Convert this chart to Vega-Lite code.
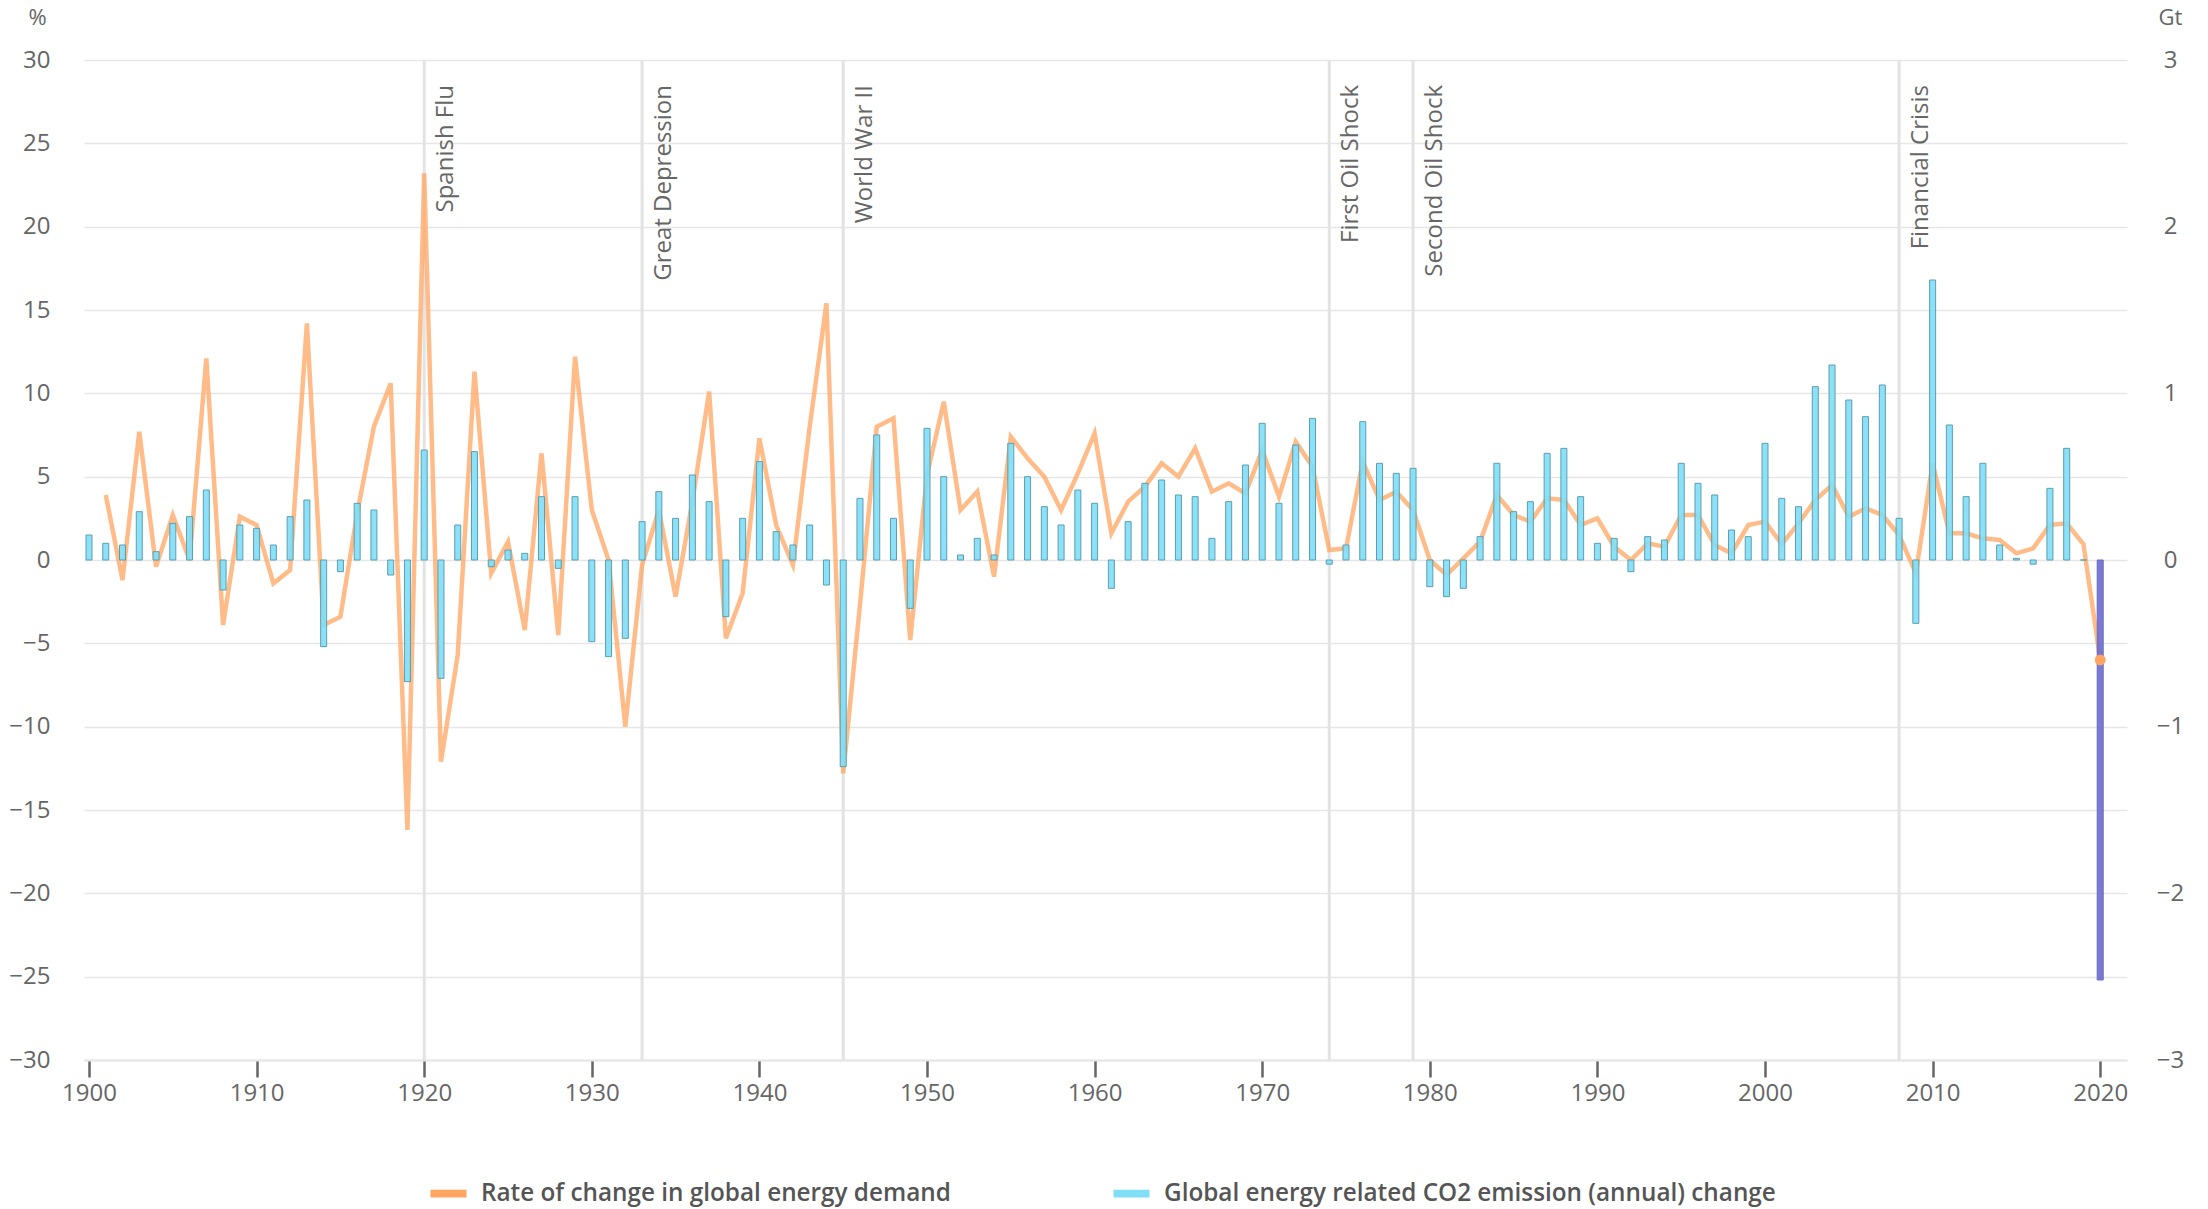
{
  "$schema": "https://vega.github.io/schema/vega-lite/v6.json",
  "width": 2043,
  "height": 1000,
  "autosize": {"type": "none"},
  "padding": {"left": 84, "top": 60, "right": 81, "bottom": 149},
  "background": "#ffffff",
  "config": {
    "view": {"stroke": null},
    "font": "Open Sans",
    "axis": {"labelFont": "Open Sans", "titleFont": "Open Sans", "labelColor": "#666666", "titleColor": "#666666", "labelFontSize": 24},
    "legend": {"labelFont": "Open Sans"}
  },
  "datasets": {
    "main": [
      {"year": 1900, "demand": null, "co2": 0.15},
      {"year": 1901, "demand": 3.9, "co2": 0.10},
      {"year": 1902, "demand": -1.2, "co2": 0.09},
      {"year": 1903, "demand": 7.7, "co2": 0.29},
      {"year": 1904, "demand": -0.4, "co2": 0.05},
      {"year": 1905, "demand": 2.7, "co2": 0.22},
      {"year": 1906, "demand": 0.0, "co2": 0.26},
      {"year": 1907, "demand": 12.1, "co2": 0.42},
      {"year": 1908, "demand": -3.9, "co2": -0.18},
      {"year": 1909, "demand": 2.6, "co2": 0.21},
      {"year": 1910, "demand": 2.1, "co2": 0.19},
      {"year": 1911, "demand": -1.4, "co2": 0.09},
      {"year": 1912, "demand": -0.6, "co2": 0.26},
      {"year": 1913, "demand": 14.2, "co2": 0.36},
      {"year": 1914, "demand": -3.9, "co2": -0.52},
      {"year": 1915, "demand": -3.4, "co2": -0.07},
      {"year": 1916, "demand": 2.8, "co2": 0.34},
      {"year": 1917, "demand": 8.0, "co2": 0.30},
      {"year": 1918, "demand": 10.6, "co2": -0.09},
      {"year": 1919, "demand": -16.2, "co2": -0.73},
      {"year": 1920, "demand": 23.2, "co2": 0.66},
      {"year": 1921, "demand": -12.1, "co2": -0.71},
      {"year": 1922, "demand": -5.7, "co2": 0.21},
      {"year": 1923, "demand": 11.3, "co2": 0.65},
      {"year": 1924, "demand": -0.8, "co2": -0.04},
      {"year": 1925, "demand": 1.1, "co2": 0.06},
      {"year": 1926, "demand": -4.2, "co2": 0.04},
      {"year": 1927, "demand": 6.4, "co2": 0.38},
      {"year": 1928, "demand": -4.5, "co2": -0.05},
      {"year": 1929, "demand": 12.2, "co2": 0.38},
      {"year": 1930, "demand": 3.0, "co2": -0.49},
      {"year": 1931, "demand": 0.0, "co2": -0.58},
      {"year": 1932, "demand": -10.0, "co2": -0.47},
      {"year": 1933, "demand": -0.3, "co2": 0.23},
      {"year": 1934, "demand": 3.0, "co2": 0.41},
      {"year": 1935, "demand": -2.2, "co2": 0.25},
      {"year": 1936, "demand": 3.5, "co2": 0.51},
      {"year": 1937, "demand": 10.1, "co2": 0.35},
      {"year": 1938, "demand": -4.7, "co2": -0.34},
      {"year": 1939, "demand": -2.0, "co2": 0.25},
      {"year": 1940, "demand": 7.3, "co2": 0.59},
      {"year": 1941, "demand": 2.1, "co2": 0.17},
      {"year": 1942, "demand": -0.3, "co2": 0.09},
      {"year": 1943, "demand": 8.0, "co2": 0.21},
      {"year": 1944, "demand": 15.4, "co2": -0.15},
      {"year": 1945, "demand": -12.8, "co2": -1.24},
      {"year": 1946, "demand": -2.7, "co2": 0.37},
      {"year": 1947, "demand": 8.0, "co2": 0.75},
      {"year": 1948, "demand": 8.5, "co2": 0.25},
      {"year": 1949, "demand": -4.8, "co2": -0.29},
      {"year": 1950, "demand": 5.1, "co2": 0.79},
      {"year": 1951, "demand": 9.5, "co2": 0.50},
      {"year": 1952, "demand": 3.0, "co2": 0.03},
      {"year": 1953, "demand": 4.1, "co2": 0.13},
      {"year": 1954, "demand": -1.0, "co2": 0.03},
      {"year": 1955, "demand": 7.4, "co2": 0.70},
      {"year": 1956, "demand": 6.1, "co2": 0.50},
      {"year": 1957, "demand": 5.0, "co2": 0.32},
      {"year": 1958, "demand": 3.0, "co2": 0.21},
      {"year": 1959, "demand": 5.2, "co2": 0.42},
      {"year": 1960, "demand": 7.6, "co2": 0.34},
      {"year": 1961, "demand": 1.6, "co2": -0.17},
      {"year": 1962, "demand": 3.5, "co2": 0.23},
      {"year": 1963, "demand": 4.4, "co2": 0.46},
      {"year": 1964, "demand": 5.8, "co2": 0.48},
      {"year": 1965, "demand": 5.0, "co2": 0.39},
      {"year": 1966, "demand": 6.7, "co2": 0.38},
      {"year": 1967, "demand": 4.1, "co2": 0.13},
      {"year": 1968, "demand": 4.6, "co2": 0.35},
      {"year": 1969, "demand": 4.0, "co2": 0.57},
      {"year": 1970, "demand": 6.6, "co2": 0.82},
      {"year": 1971, "demand": 3.8, "co2": 0.34},
      {"year": 1972, "demand": 7.1, "co2": 0.69},
      {"year": 1973, "demand": 5.6, "co2": 0.85},
      {"year": 1974, "demand": 0.6, "co2": -0.025},
      {"year": 1975, "demand": 0.7, "co2": 0.09},
      {"year": 1976, "demand": 5.9, "co2": 0.83},
      {"year": 1977, "demand": 3.6, "co2": 0.58},
      {"year": 1978, "demand": 4.1, "co2": 0.52},
      {"year": 1979, "demand": 3.0, "co2": 0.55},
      {"year": 1980, "demand": 0.0, "co2": -0.16},
      {"year": 1981, "demand": -0.9, "co2": -0.22},
      {"year": 1982, "demand": 0.1, "co2": -0.17},
      {"year": 1983, "demand": 1.1, "co2": 0.14},
      {"year": 1984, "demand": 3.9, "co2": 0.58},
      {"year": 1985, "demand": 2.7, "co2": 0.29},
      {"year": 1986, "demand": 2.3, "co2": 0.35},
      {"year": 1987, "demand": 3.7, "co2": 0.64},
      {"year": 1988, "demand": 3.6, "co2": 0.67},
      {"year": 1989, "demand": 2.1, "co2": 0.38},
      {"year": 1990, "demand": 2.5, "co2": 0.10},
      {"year": 1991, "demand": 0.8, "co2": 0.13},
      {"year": 1992, "demand": 0.0, "co2": -0.07},
      {"year": 1993, "demand": 1.0, "co2": 0.14},
      {"year": 1994, "demand": 0.8, "co2": 0.12},
      {"year": 1995, "demand": 2.7, "co2": 0.58},
      {"year": 1996, "demand": 2.7, "co2": 0.46},
      {"year": 1997, "demand": 0.9, "co2": 0.39},
      {"year": 1998, "demand": 0.4, "co2": 0.18},
      {"year": 1999, "demand": 2.1, "co2": 0.14},
      {"year": 2000, "demand": 2.3, "co2": 0.70},
      {"year": 2001, "demand": 0.95, "co2": 0.37},
      {"year": 2002, "demand": 2.2, "co2": 0.32},
      {"year": 2003, "demand": 3.6, "co2": 1.04},
      {"year": 2004, "demand": 4.5, "co2": 1.17},
      {"year": 2005, "demand": 2.6, "co2": 0.96},
      {"year": 2006, "demand": 3.1, "co2": 0.86},
      {"year": 2007, "demand": 2.7, "co2": 1.05},
      {"year": 2008, "demand": 1.5, "co2": 0.25},
      {"year": 2009, "demand": -0.8, "co2": -0.38},
      {"year": 2010, "demand": 5.8, "co2": 1.68},
      {"year": 2011, "demand": 1.6, "co2": 0.81},
      {"year": 2012, "demand": 1.6, "co2": 0.38},
      {"year": 2013, "demand": 1.3, "co2": 0.58},
      {"year": 2014, "demand": 1.2, "co2": 0.09},
      {"year": 2015, "demand": 0.4, "co2": 0.01},
      {"year": 2016, "demand": 0.7, "co2": -0.025},
      {"year": 2017, "demand": 2.1, "co2": 0.43},
      {"year": 2018, "demand": 2.2, "co2": 0.67},
      {"year": 2019, "demand": 0.95, "co2": 0.0},
      {"year": 2020, "demand": -6.0, "co2": -2.52}
    ],
    "events": [
      {"year": 1920, "label": "Spanish Flu"},
      {"year": 1933, "label": "Great Depression"},
      {"year": 1945, "label": "World War II"},
      {"year": 1974, "label": "First Oil Shock"},
      {"year": 1979, "label": "Second Oil Shock"},
      {"year": 2008, "label": "Financial Crisis"}
    ]
  },
  "encoding": {
    "x": {
      "field": "year",
      "type": "quantitative",
      "scale": {"domain": [1900, 2021.3], "nice": false, "zero": false},
      "axis": {
        "values": [1900, 1910, 1920, 1930, 1940, 1950, 1960, 1970, 1980, 1990, 2000, 2010, 2020],
        "format": "d",
        "title": null,
        "grid": false,
        "domainColor": "#e6e6e6",
        "domainWidth": 2,
        "tickColor": "#666666",
        "tickWidth": 2.5,
        "tickSize": 17,
        "labelPadding": 4,
        "labelFontSize": 24,
        "labelColor": "#666666"
      }
    }
  },
  "layer": [
    {
      "data": {"name": "main"},
      "mark": {"type": "rule", "color": "#ffffff", "opacity": 0},
      "encoding": {
        "y": {
          "datum": 0,
          "type": "quantitative",
          "scale": {"domain": [-30, 30], "nice": false, "zero": false},
          "axis": {
            "values": [-30, -25, -20, -15, -10, -5, 0, 5, 10, 15, 20, 25, 30],
            "grid": true,
            "gridColor": "#e6e6e6",
            "gridWidth": 1.5,
            "domain": false,
            "ticks": false,
            "tickSize": 0,
            "labelPadding": 34,
            "labelFontSize": 24,
            "labelColor": "#666666",
            "title": "%",
            "titleAngle": 0,
            "titleX": -47,
            "titleY": -43,
            "titleAlign": "center",
            "titleBaseline": "middle",
            "titleFontSize": 22,
            "titleFontWeight": "normal",
            "titleColor": "#666666"
          }
        }
      }
    },
    {
      "data": {"name": "events"},
      "mark": {"type": "rule", "color": "#e3e3e3", "strokeWidth": 3},
      "encoding": {}
    },
    {
      "data": {"name": "events"},
      "mark": {"type": "text", "angle": 270, "align": "right", "baseline": "top", "dy": 10, "fontSize": 24, "color": "#666666", "font": "Open Sans"},
      "encoding": {
        "y": {"datum": 28.5, "type": "quantitative", "scale": {"domain": [-30, 30], "nice": false, "zero": false}, "axis": null},
        "text": {"field": "label"}
      }
    },
    {
      "data": {"name": "main"},
      "mark": {"type": "rule", "color": "#8c8c8c", "strokeWidth": 1.5},
      "encoding": {
        "y": {"datum": 0, "type": "quantitative", "scale": {"domain": [-30, 30], "nice": false, "zero": false}, "axis": null}
      }
    },
    {
      "data": {"name": "main"},
      "transform": [{"filter": "datum.demand != null"}],
      "mark": {"type": "line", "strokeWidth": 4.5, "opacity": 0.75, "strokeJoin": "miter"},
      "encoding": {
        "y": {"field": "demand", "type": "quantitative", "scale": {"domain": [-30, 30], "nice": false, "zero": false}, "axis": null},
        "color": {
          "datum": "Rate of change in global energy demand",
          "scale": {
            "domain": ["Rate of change in global energy demand", "Global energy related CO2 emission (annual) change"],
            "range": ["#FFA561", "#80DEF7"]
          },
          "legend": {
            "orient": "none",
            "legendX": 346,
            "legendY": 1115,
            "direction": "horizontal",
            "title": null,
            "symbolType": "M-1,-0.22H1V0.22H-1Z",
            "symbolSize": 1300,
            "symbolStrokeWidth": 0,
            "symbolOpacity": 1,
            "labelFontSize": 24.3,
            "labelColor": "#555555",
            "labelFontWeight": 600,
            "labelOffset": 14,
            "columnPadding": 162,
            "labelLimit": 800
          }
        }
      }
    },
    {
      "data": {"name": "main"},
      "mark": {"type": "bar", "width": 6, "strokeWidth": 1, "fillOpacity": 0.9},
      "encoding": {
        "y": {
          "field": "co2",
          "type": "quantitative",
          "scale": {"domain": [-3, 3], "nice": false, "zero": true},
          "axis": {
            "orient": "right",
            "values": [-3, -2, -1, 0, 1, 2, 3],
            "grid": false,
            "domain": false,
            "ticks": false,
            "tickSize": 0,
            "labelAlign": "center",
            "labelPadding": 43,
            "labelFontSize": 24,
            "labelColor": "#666666",
            "title": "Gt",
            "titleAngle": 0,
            "titleX": 43,
            "titleY": -43,
            "titleAlign": "center",
            "titleBaseline": "middle",
            "titleFontSize": 22,
            "titleFontWeight": "normal",
            "titleColor": "#666666"
          }
        },
        "color": {
          "condition": {"test": "datum.year === 2020", "value": "#6B6BCC"},
          "datum": "Global energy related CO2 emission (annual) change"
        },
        "stroke": {
          "condition": {"test": "datum.year === 2020", "value": "#6B6BCC"},
          "value": "#5A9FAF"
        }
      }
    },
    {
      "data": {"name": "main"},
      "transform": [{"filter": "datum.year === 2020"}],
      "mark": {"type": "point", "filled": true, "size": 120, "color": "#FFA561", "opacity": 1},
      "encoding": {
        "y": {"field": "demand", "type": "quantitative", "scale": {"domain": [-30, 30], "nice": false, "zero": false}, "axis": null}
      }
    }
  ],
  "resolve": {"scale": {"y": "independent"}}
}
